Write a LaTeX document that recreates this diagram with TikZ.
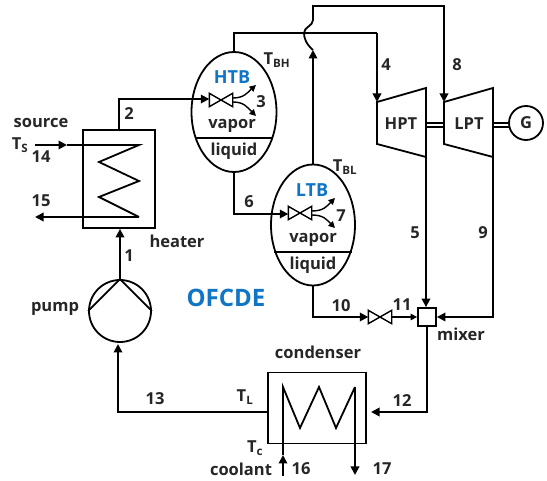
\documentclass[tikz,border=0pt]{standalone}
\usepackage{fontspec}
\setmainfont{Open Sans}
\usepackage{xcolor}
\definecolor{labelblue}{HTML}{0F75C4}
\usetikzlibrary{shapes.geometric, arrows.meta, calc}
\tikzset{
  pipe/.style={line width=1.8pt, line join=miter},
  flow/.style={pipe, -{Triangle[length=8.5pt,width=8.5pt]}},
  thinflow/.style={line width=1.4pt, -{Triangle[length=6.5pt,width=6.5pt]}},
  lbl/.style={font=\bfseries\fontsize{16.5}{18}\selectfont, text=black!85, inner sep=0pt},
  bluelbl/.style={lbl, text=labelblue},
  unitbox/.style={draw, pipe, inner sep=0pt},
  valvebox/.style={inner sep=0pt, minimum width=23pt, minimum height=13pt},
}
\begin{document}
\begin{tikzpicture}[x=1pt, y=-1pt]
  \useasboundingbox (0,0) rectangle (547,481);

  % Valve with its crossed triangles
  \def\valve#1#2#3{%
    \node[valvebox] (#1) at (#2,#3) {};
    \draw[line width=1.4pt] (#1.north west) -- (#1.south east) -- (#1.north east)
      -- (#1.south west) -- cycle;
  }

  % Main units
  \node[unitbox, minimum width=72pt, minimum height=98pt] (heater) at (119,179) {};
  \node[unitbox, minimum width=98pt, minimum height=71pt] (condenser) at (317,408) {};
  \node[unitbox, circle, minimum size=62pt] (pump) at (120,311) {};
  \node[unitbox, circle, minimum size=34pt] (gen) at (526,123) {};
  \node[unitbox, minimum size=18pt] (mixer) at (427,317) {};
  \node[unitbox, ellipse, minimum width=85pt, minimum height=120pt] (htb) at (234,112) {};
  \node[unitbox, ellipse, minimum width=84pt, minimum height=121pt] (ltb) at (313,225) {};
  \draw[pipe] (196,138) -- (273,138);
  \draw[pipe] (274,252) -- (352,252);

  % Turbines
  \coordinate (hptin) at (377,102);
  \coordinate (hptout) at (426,157);
  \coordinate (lptin) at (444,102);
  \coordinate (lptout) at (493,157);
  \draw[pipe] (hptin) -- (426,88) -- (hptout) -- (377,144) -- cycle;
  \draw[pipe] (lptin) -- (493,88) -- (lptout) -- (444,144) -- cycle;
  \draw[line width=1.4pt] (426,123) -- (444,123) (426,127) -- (444,127);
  \draw[line width=1.4pt] (493,123) -- (509,123) (493,127) -- (510,127);

  % Pump blades
  \draw[pipe] (pump.west) -- (pump.north) -- (pump.east);

  % Valves
  \valve{vhtb}{221}{100}
  \valve{vltb}{300}{213}
  \valve{vout}{380}{317}

  % Coils
  \coordinate (s14) at (35,145);
  \coordinate (m14) at (67,145);
  \coordinate (e15) at (35,217);
  \draw[flow] (s14) -- (m14);
  \draw[pipe] (m14) -- (139,145) -- (99,162) -- (139,181) -- (99,197) -- (139,217);
  \draw[flow] (139,217) -- (e15);
  \coordinate (s16) at (283,476);
  \coordinate (m16) at (283,455);
  \coordinate (e17) at (355,475);
  \draw[flow] (s16) -- (m16);
  \draw[pipe] (m16) -- (283,387) -- (300,428) -- (319,387) -- (336,428) -- (355,387);
  \draw[flow] (355,387) -- (e17);

  % Pipes
  \draw[flow] (pump.north) -- (heater.south -| pump.north);
  \draw[flow] (heater.north) -- (119,99) -- (vhtb.west |- 0,99);
  \draw[pipe] (htb.north) -- (234,33) -- (377,33);
  \draw[flow] (377,33) -- (hptin);
  \draw[flow] (htb.south) -- (234,214) -- (vltb.west |- 0,214);
  \draw[flow] (ltb.north) -- (313,50);
  \draw[flow] (313,50) .. controls (306,44) and (304,38) .. (304,33)
    .. controls (304,27) and (313,26) .. (313,20) -- (313,6) -- (444,6) -- (lptin);
  \draw[flow] (ltb.south) -- (313,317) -- (vout.west);
  \draw[thinflow] (vout.east) -- (mixer.west);
  \draw[flow] (hptout) -- (mixer.north -| hptout);
  \draw[flow] (lptout) -- (493,317) -- (mixer.east);
  \coordinate (e12) at (371,412);
  \draw[flow] (mixer.south) -- (427,412) -- (e12);
  \draw[flow] (condenser.west |- 0,412) -- (118,412) -- (118,344);

  % Vapor branches
  \draw[thinflow] (vhtb.east) ++(0,-2) .. controls (244,98) and (247,93) .. (256,85);
  \draw[thinflow] (vhtb.east) ++(0,2) .. controls (244,102) and (247,107) .. (256,116);
  \draw[thinflow] (vltb.east) ++(0,-2) .. controls (324,211) and (327,206) .. (335,198);
  \draw[thinflow] (vltb.east) ++(0,2) .. controls (324,215) and (327,220) .. (335,228);

  % Labels
  \node[lbl] (source) at (41,123) {source};
  \node[lbl] (ts) at (20,145) {T\textsubscript{S}};
  \node[lbl] (n14) at (41,157) {14};
  \node[lbl] (n15) at (41,201) {15};
  \node[lbl] (n2) at (129,114) {2};
  \node[lbl] (n1) at (129,256) {1};
  \node[lbl] (heaterlbl) at (177,241) {heater};
  \node[lbl] (pumplbl) at (55,309) {pump};
  \node[bluelbl, font=\bfseries\fontsize{24}{26}\selectfont] (ofcde) at (226,298) {OFCDE};
  \node[bluelbl, font=\bfseries\fontsize{18}{20}\selectfont] (htblbl) at (232,77) {HTB};
  \node[lbl] (vaporh) at (232,126) {vapor};
  \node[lbl] (liquidh) at (234,151) {liquid};
  \node[lbl] (n3) at (261,102) {3};
  \node[lbl] (tbh) at (277,60) {T\textsubscript{BH}};
  \node[bluelbl, font=\bfseries\fontsize{18}{20}\selectfont] (ltblbl) at (312,190) {LTB};
  \node[lbl] (vaporl) at (313,240) {vapor};
  \node[lbl] (liquidl) at (313,265) {liquid};
  \node[lbl] (n7) at (341,216) {7};
  \node[lbl] (tbl) at (345,167) {T\textsubscript{BL}};
  \node[lbl] (n4) at (386,65) {4};
  \node[lbl] (n8) at (457,65) {8};
  \node[lbl] (hptlbl) at (401,124) {HPT};
  \node[lbl] (lptlbl) at (469,124) {LPT};
  \node[lbl] (glbl) at (526,123) {G};
  \node[lbl] (n5) at (415,233) {5};
  \node[lbl] (n9) at (483,233) {9};
  \node[lbl] (n6) at (249,202) {6};
  \node[lbl] (n10) at (341,306) {10};
  \node[lbl] (n11) at (402,305) {11};
  \node[lbl] (mixerlbl) at (461,334) {mixer};
  \node[lbl] (condlbl) at (318,352) {condenser};
  \node[lbl] (n12) at (402,401) {12};
  \node[lbl] (n13) at (155,399) {13};
  \node[lbl] (tl) at (245,397) {T\textsubscript{L}};
  \node[lbl] (tc) at (255,448) {T\textsubscript{c}};
  \node[lbl] (coolant) at (241,469) {coolant};
  \node[lbl] (n16) at (301,469) {16};
  \node[lbl] (n17) at (382,469) {17};
\end{tikzpicture}
\end{document}
